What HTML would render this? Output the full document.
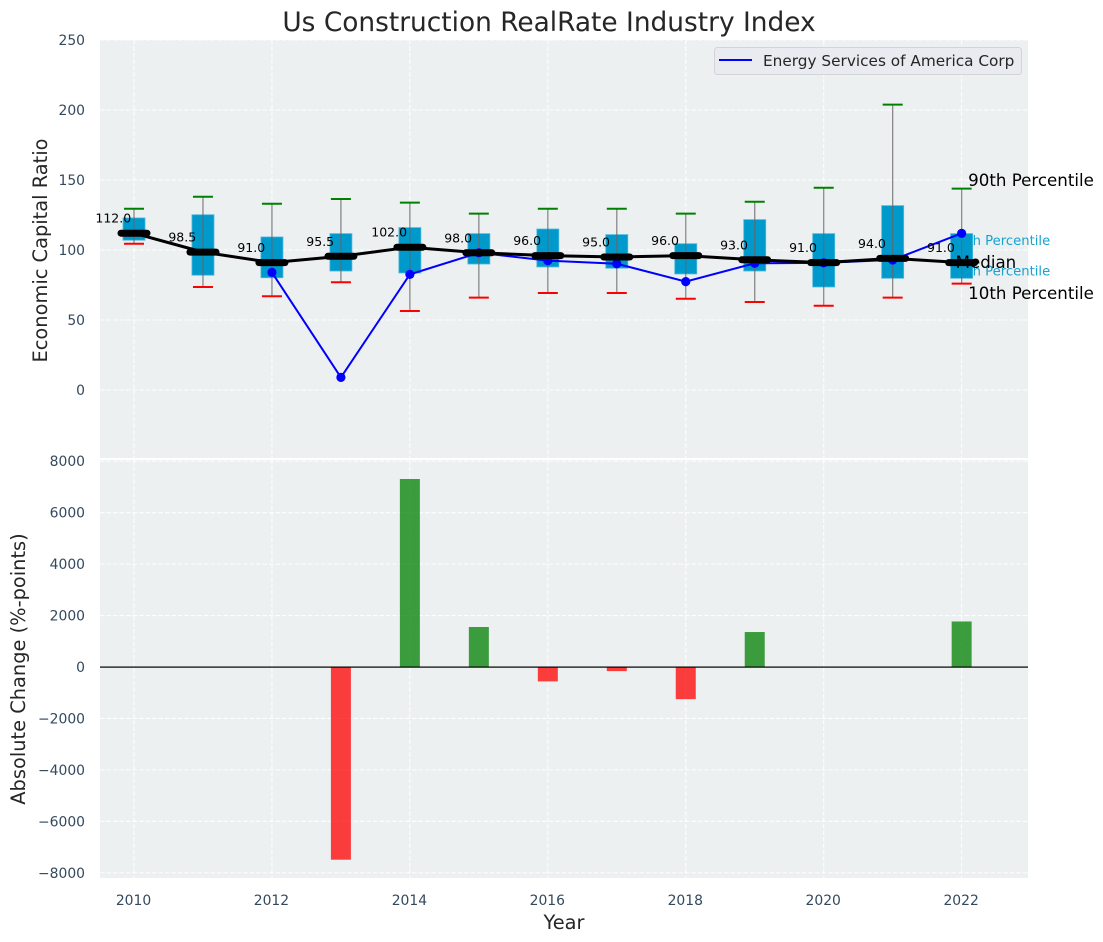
<!DOCTYPE html>
<html lang="en">
<head>
<meta charset="utf-8">
<title>Us Construction RealRate Industry Index</title>
<style>
html,body{margin:0;padding:0;background:#fff;}
svg{display:block;font-family:"DejaVu Sans","Liberation Sans",sans-serif;}
</style>
</head>
<body>
<svg id="chart" xmlns="http://www.w3.org/2000/svg" width="1103" height="942" viewBox="0 0 1103 942">
  <rect x="100" y="40" width="928" height="418" fill="#ecf0f1"/>
  <rect x="100" y="460" width="928" height="418" fill="#ecf0f1"/>
  <g id="grid"></g>
  <g id="marks-top"></g>
  <g id="marks-bottom"></g>
  <g id="ticks"></g>
  <text x="549" y="31" font-size="26.4" text-anchor="middle" fill="#262626">Us Construction RealRate Industry Index</text>
  <text transform="translate(47,250.5) rotate(-90)" font-size="19.4" text-anchor="middle" fill="#262626">Economic Capital Ratio</text>
  <text transform="translate(25,669) rotate(-90)" font-size="19.4" text-anchor="middle" fill="#262626">Absolute Change (%-points)</text>
  <text x="564" y="929" font-size="19.4" text-anchor="middle" fill="#262626">Year</text>
  <g>
    <rect x="714.5" y="47.5" width="307" height="27" rx="3" fill="#e9ebf0" stroke="#d2d4d8" stroke-width="1"/>
    <line x1="719" y1="60" x2="752" y2="60" stroke="#0000ff" stroke-width="2"/>
    <text x="763" y="66" font-size="15.3" fill="#262626">Energy Services of America Corp</text>
  </g>
</svg>
<script>
const years = [2010,2011,2012,2013,2014,2015,2016,2017,2018,2019,2020,2021,2022];
const p90 = [129.5,138,133,136.4,133.8,126,129.5,129.5,126,134.5,144.5,203.8,143.8];
const p75 = [122.9,125.2,109.3,111.7,116,111.7,115,111,104.5,121.7,111.7,131.7,111.7];
const medians = [112,98.5,91,95.5,102,98,96,95,96,93,91,94,91];
const p25 = [107,82,80.2,85,83.6,90,87.9,87,82.9,85,73.6,79.8,79.8];
const p10 = [104.5,73.6,67,77,56.4,66,69.3,69.3,65.2,62.9,60.2,66,76];
const companyYears = [2012,2013,2014,2015,2016,2017,2018,2019,2020,2021,2022];
const companyValues = [84,9,82.6,98,92.4,90.2,77.4,90.5,90.8,92.9,111.9];
const changeYears = [2013,2014,2015,2016,2017,2018,2019,2022];
const changeValues = [-7492,7309,1555,-560,-160,-1250,1360,1770];
const xTickValues = [2010,2012,2014,2016,2018,2020,2022];
const topTickValues = [0,50,100,150,200,250];
const bottomTickValues = [-8000,-6000,-4000,-2000,0,2000,4000,6000,8000];

const NS = 'http://www.w3.org/2000/svg';
function x(year){ return 134 + (year - 2010) * 68.97; }
function yTop(v){ return 390 - v * 1.4; }
function yBottom(v){ return 667 - v * 0.02572; }
function make(parent, tag, props, content){
  const el = document.createElementNS(NS, tag);
  for (const k in props) el.setAttribute(k, props[k]);
  if (content !== undefined) el.textContent = content;
  parent.appendChild(el);
  return el;
}
const gridG = document.getElementById('grid');
const topG = document.getElementById('marks-top');
const botG = document.getElementById('marks-bottom');
const tickG = document.getElementById('ticks');
const gridStyle = {stroke:'#ffffff','stroke-width':1.1,'stroke-dasharray':'4.5 2','stroke-opacity':0.9,fill:'none'};

xTickValues.forEach(function(t){
  [[40,458],[460,878]].forEach(function(span){
    const g = make(gridG,'line',Object.assign({x1:x(t),x2:x(t),y1:span[0],y2:span[1]},gridStyle));
    
    
  });
  const lab = make(tickG,'text',{x:x(t)-0.5,y:905,'font-size':13.9,'text-anchor':'middle',fill:'#34495e'},String(t));
  
  
});
topTickValues.forEach(function(t){
  const g = make(gridG,'line',Object.assign({x1:100,x2:1028,y1:yTop(t),y2:yTop(t)},gridStyle));
  
  
  const lab = make(tickG,'text',{x:85,y:yTop(t)+5,'font-size':13.9,'text-anchor':'end',fill:'#34495e'},String(t));
  
  
});
bottomTickValues.forEach(function(t){
  const g = make(gridG,'line',Object.assign({x1:100,x2:1028,y1:yBottom(t),y2:yBottom(t)},gridStyle));
  
  
  const text = (t < 0 ? '\u2212' : '') + Math.abs(t);
  const lab = make(tickG,'text',{x:85,y:yBottom(t)+5,'font-size':13.9,'text-anchor':'end',fill:'#34495e'},text);
  
  
});

/* percentile boxes and whiskers */
years.forEach(function(year,i){
  const cx = x(year);
  const box = make(topG,'rect',{x:cx-11,y:yTop(p75[i]),width:22,height:yTop(p25[i])-yTop(p75[i]),fill:'#0099cc',stroke:'#4db8dc','stroke-width':0.8});
  
  
  const w = make(topG,'line',{x1:cx,x2:cx,y1:yTop(p90[i]),y2:yTop(p10[i]),stroke:'#666666','stroke-opacity':0.75,'stroke-width':1.3});
  
  
  const capHi = make(topG,'line',{x1:cx-10,x2:cx+10,y1:yTop(p90[i]),y2:yTop(p90[i]),stroke:'#008000','stroke-width':2});
  
  
  const capLo = make(topG,'line',{x1:cx-10,x2:cx+10,y1:yTop(p10[i]),y2:yTop(p10[i]),stroke:'#ff0000','stroke-width':2});
  
  
});

/* side annotations */
const last = years.length - 1;
const lastX = x(years[last]);
const a90 = make(topG,'text',{x:lastX+6.5,y:yTop(p90[last])-2.5,'font-size':16.67,fill:'#000'},'90th Percentile');


const a75 = make(topG,'text',{x:lastX-11,y:yTop(p75[last])+11.5,'font-size':13.2,fill:'#0099cc','fill-opacity':0.9},'75th Percentile');


const a25 = make(topG,'text',{x:lastX-11,y:yTop(p25[last])-3,'font-size':13.2,fill:'#0099cc','fill-opacity':0.9},'25th Percentile');


const a10 = make(topG,'text',{x:lastX+6.5,y:yTop(p10[last])+15.5,'font-size':16.67,fill:'#000'},'10th Percentile');



/* company series */
const companyLine = make(topG,'polyline',{points:companyYears.map(function(yr,i){return x(yr)+','+yTop(companyValues[i]);}).join(' '),fill:'none',stroke:'#0000ff','stroke-width':2});


companyYears.forEach(function(yr,i){
  const c = make(topG,'circle',{cx:x(yr),cy:yTop(companyValues[i]),r:4.6,fill:'#0000ff'});
  
  
});

/* median series */
const medianLine = make(topG,'polyline',{points:years.map(function(yr,i){return x(yr)+','+yTop(medians[i]);}).join(' '),fill:'none',stroke:'#000','stroke-width':3});


years.forEach(function(year,i){
  const cx = x(year), cy = yTop(medians[i]);
  const m = make(topG,'line',{x1:cx-13,x2:cx+13,y1:cy,y2:cy,stroke:'#000','stroke-width':7,'stroke-linecap':'round'});
  
  
  const t = make(topG,'text',{x:x(year-0.3),y:cy-10.5,'font-size':12.5,'text-anchor':'middle',fill:'#000'},medians[i].toFixed(1));
  
  
});
const aMed = make(topG,'text',{x:lastX-6,y:yTop(medians[last])+5.5,'font-size':16.67,fill:'#000'},'Median');



/* change bars */
changeYears.forEach(function(yr,i){
  const v = changeValues[i];
  const y0 = yBottom(Math.max(v,0)), y1 = yBottom(Math.min(v,0));
  const b = make(botG,'rect',{x:x(yr)-10,y:y0,width:20,height:y1-y0,fill:v>=0?'#008000':'#ff0000','fill-opacity':0.75});
  
  
});
const zero = make(botG,'rect',{x:100,width:928,y:yBottom(0)-0.5,height:1.2,fill:'#000'});


</script>
</body>
</html>
